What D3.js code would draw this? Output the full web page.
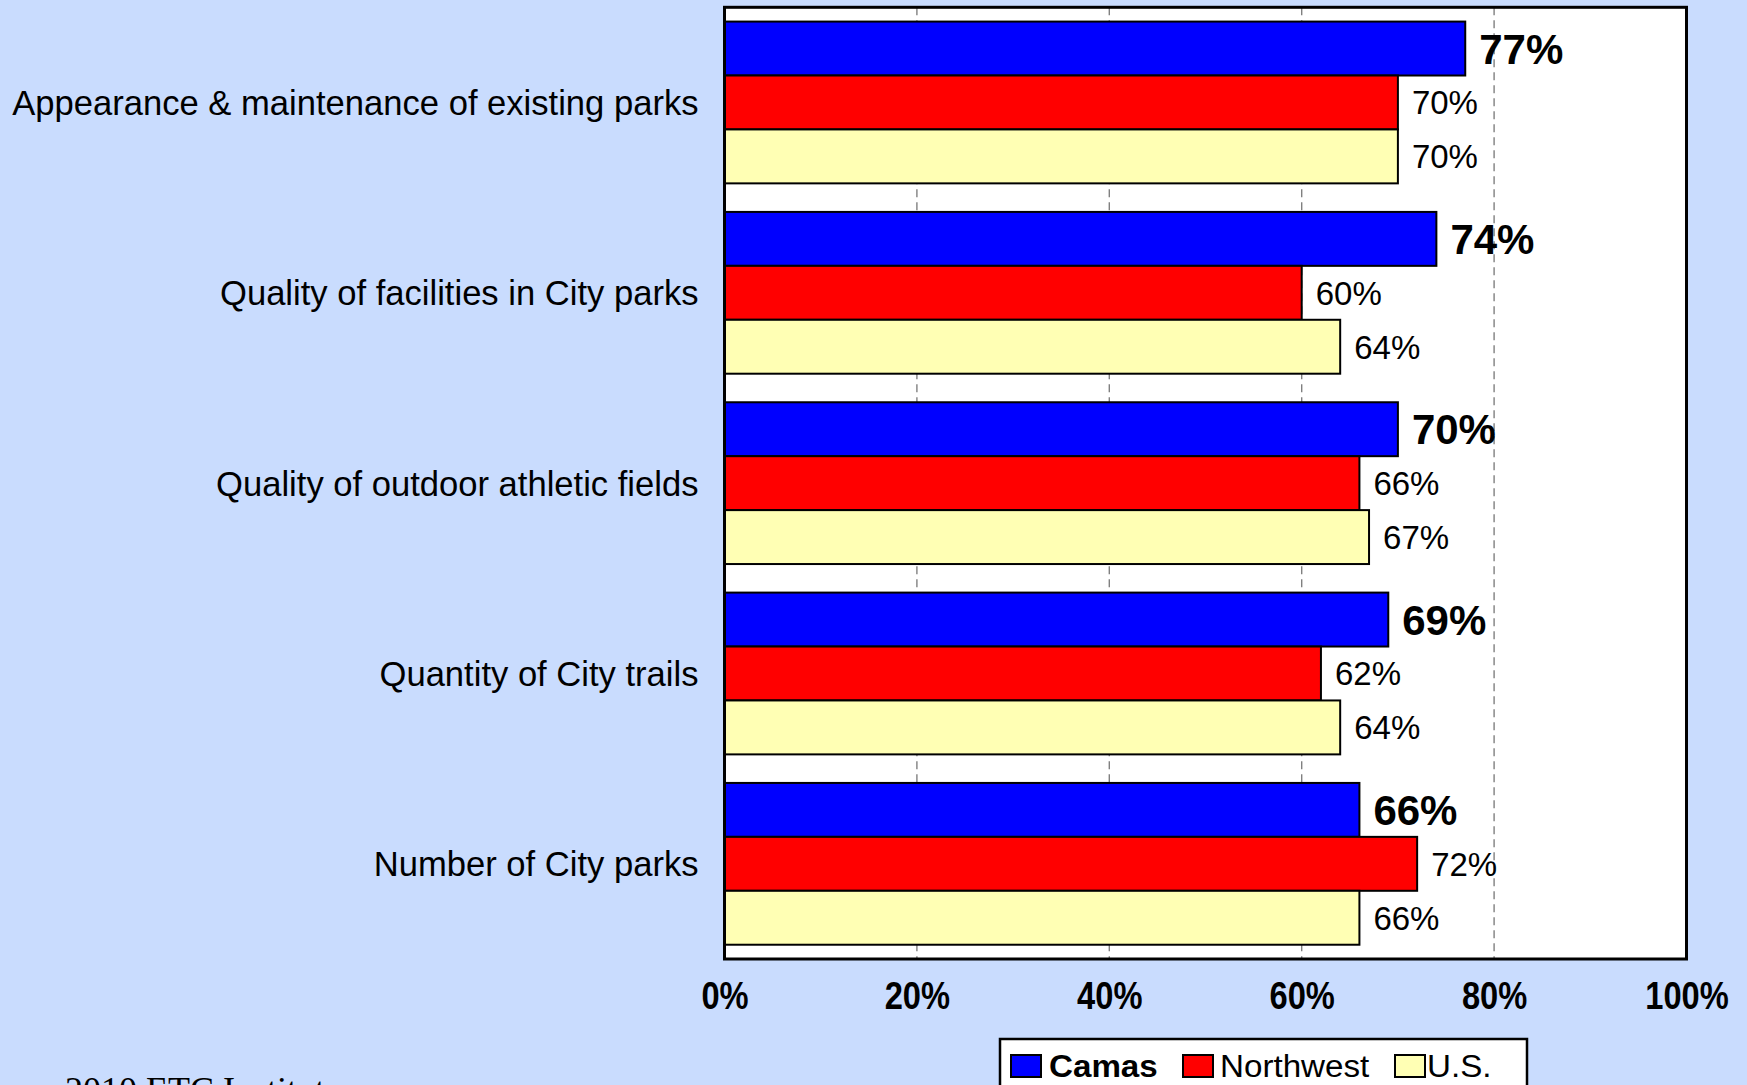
<!DOCTYPE html>
<html>
<head>
<meta charset="utf-8">
<script src="https://cdn.jsdelivr.net/npm/d3@7"></script>
<style>
  html, body { margin: 0; padding: 0; background: #c9dcfe; }
  svg { display: block; }
</style>
</head>
<body>
<svg id="chart" width="1747" height="1085"></svg>
<script>
// Satisfaction ratings: Camas vs. Northwest region vs. U.S. average
const categories = [
  "Appearance & maintenance of existing parks",
  "Quality of facilities in City parks",
  "Quality of outdoor athletic fields",
  "Quantity of City trails",
  "Number of City parks"
];
const seriesNames = ["Camas", "Northwest", "U.S."];
const camas = [77, 74, 70, 69, 66];
const northwest = [70, 60, 66, 62, 72];
const us = [70, 64, 67, 64, 66];
const tickValues = [0, 20, 40, 60, 80, 100];
const gridValues = [20, 40, 60, 80];

const seriesValues = [camas, northwest, us];
const colors = ["#0000ff", "#ff0000", "#ffffb4"];

const svg = d3.select("#chart");

const plot = { left: 724.5, right: 1686.5, top: 7.3, bottom: 959 };

const x = d3.scaleLinear().domain([0, 100]).range([plot.left, plot.right]);
const y = d3.scaleBand().domain(categories)
  .range([plot.top, plot.bottom])
  .paddingInner(0.15).paddingOuter(0.075);
const ySub = d3.scaleBand().domain(seriesNames).range([0, y.bandwidth()]).padding(0);

// plot area
svg.append("rect")
  .attr("x", plot.left).attr("y", plot.top)
  .attr("width", plot.right - plot.left).attr("height", plot.bottom - plot.top)
  .attr("fill", "#ffffff");

// dashed vertical gridlines
svg.append("g").selectAll("line").data(gridValues).join("line")
  .attr("x1", d => x(d)).attr("x2", d => x(d))
  .attr("y1", plot.top).attr("y2", plot.bottom)
  .attr("stroke", "#808080").attr("stroke-width", 1.4)
  .attr("stroke-dasharray", "8,5");

// bars
const rows = [];
categories.forEach((c, i) => {
  seriesNames.forEach((s, j) => rows.push({ cat: c, series: s, idx: j, value: seriesValues[j][i] }));
});

const groups = svg.append("g");
groups.selectAll("rect").data(rows).join("rect")
  .attr("x", x(0))
  .attr("y", d => y(d.cat) + ySub(d.series))
  .attr("width", d => x(d.value) - x(0))
  .attr("height", ySub.bandwidth())
  .attr("fill", d => colors[d.idx])
  .attr("stroke", "#000").attr("stroke-width", 2);

// value labels (Camas in bold)
groups.selectAll("text").data(rows).join("text")
  .attr("x", d => x(d.value) + 14)
  .attr("y", d => y(d.cat) + ySub(d.series) + ySub.bandwidth() / 2)
  .attr("dy", "0.36em")
  .attr("font-family", "Liberation Sans, Arial, sans-serif")
  .attr("font-size", d => d.idx === 0 ? 42 : 33)
  .attr("font-weight", d => d.idx === 0 ? "bold" : "normal")
  .attr("fill", "#000")
  .text(d => d.value + "%");

// plot border
svg.append("rect")
  .attr("x", plot.left).attr("y", plot.top)
  .attr("width", plot.right - plot.left).attr("height", plot.bottom - plot.top)
  .attr("fill", "none").attr("stroke", "#000").attr("stroke-width", 3);

// category labels
svg.append("g").selectAll("text").data(categories).join("text")
  .attr("x", plot.left - 26)
  .attr("y", d => y(d) + y.bandwidth() / 2)
  .attr("dy", "0.36em")
  .attr("text-anchor", "end")
  .attr("font-family", "Liberation Sans, Arial, sans-serif")
  .attr("font-size", 34.6)
  .attr("fill", "#000")
  .text(d => d);

// x axis with condensed bold tick labels
const xAxis = svg.append("g")
  .attr("transform", `translate(0, ${plot.bottom})`)
  .call(d3.axisBottom(x).tickValues(tickValues).tickSize(0).tickPadding(0).tickFormat(d => d + "%"));
xAxis.select(".domain").remove();
xAxis.selectAll("text")
  .attr("y", 36)
  .attr("dy", "0.36em")
  .attr("transform", "scale(0.86,1)")
  .attr("font-family", "Liberation Sans, Arial, sans-serif")
  .attr("font-size", 38)
  .attr("font-weight", "bold")
  .attr("fill", "#000");

// legend (text slightly widened)
const legend = svg.append("g");
legend.append("rect")
  .attr("x", 1000).attr("y", 1039).attr("width", 527).attr("height", 60)
  .attr("fill", "#fff").attr("stroke", "#000").attr("stroke-width", 2.5);
const swatchX = [1011, 1183, 1395];
const labelX = [1049, 1220, 1427];
seriesNames.forEach((s, j) => {
  legend.append("rect")
    .attr("x", swatchX[j]).attr("y", 1055).attr("width", 30).attr("height", 22)
    .attr("fill", colors[j]).attr("stroke", "#000").attr("stroke-width", 2);
  legend.append("text")
    .attr("transform", `translate(${labelX[j]},1077) scale(1.07,1)`)
    .attr("font-family", "Liberation Sans, Arial, sans-serif")
    .attr("font-size", 31)
    .attr("font-weight", j === 0 ? "bold" : "normal")
    .attr("fill", "#000")
    .text(s);
});

// source note
svg.append("text")
  .attr("x", 65).attr("y", 1102)
  .attr("font-family", "Liberation Serif, Times New Roman, serif")
  .attr("font-size", 36)
  .attr("fill", "#000")
  .text("2010 ETC Institute");
</script>
</body>
</html>
